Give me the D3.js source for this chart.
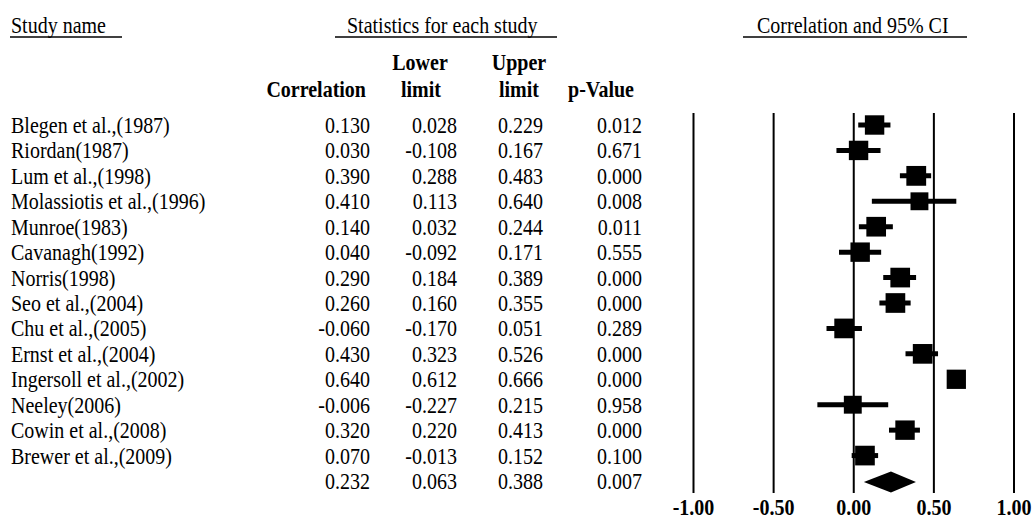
<!DOCTYPE html>
<html>
<head>
<meta charset="utf-8">
<script src="https://cdn.jsdelivr.net/npm/d3@7"></script>
<style>
  body { margin: 0; background: #fff; }
  text { font-family: "Liberation Serif", "Times New Roman", serif; fill: #000; }
</style>
</head>
<body>
<svg id="chart" width="1034" height="519"></svg>
<script>
// study rows
const studies = [
  'Blegen et al.,(1987)', 'Riordan(1987)', 'Lum et al.,(1998)', 'Molassiotis et al.,(1996)',
  'Munroe(1983)', 'Cavanagh(1992)', 'Norris(1998)', 'Seo et al.,(2004)', 'Chu et al.,(2005)',
  'Ernst et al.,(2004)', 'Ingersoll et al.,(2002)', 'Neeley(2006)', 'Cowin et al.,(2008)',
  'Brewer et al.,(2009)'
];
const correlation = [0.130, 0.030, 0.390, 0.410, 0.140, 0.040, 0.290, 0.260, -0.060, 0.430, 0.640, -0.006, 0.320, 0.070];
const lowerLimit  = [0.028, -0.108, 0.288, 0.113, 0.032, -0.092, 0.184, 0.160, -0.170, 0.323, 0.612, -0.227, 0.220, -0.013];
const upperLimit  = [0.229, 0.167, 0.483, 0.640, 0.244, 0.171, 0.389, 0.355, 0.051, 0.526, 0.666, 0.215, 0.413, 0.152];
const pValue      = [0.012, 0.671, 0.000, 0.008, 0.011, 0.555, 0.000, 0.000, 0.289, 0.000, 0.000, 0.958, 0.000, 0.100];
// relative weights (estimated from square sizes)
const weight      = [7.3, 7.3, 7.6, 6.2, 7.5, 7.3, 7.5, 7.5, 7.5, 7.5, 7.2, 6.2, 7.3, 7.5];
// pooled estimate
const summary = { r: 0.232, lo: 0.063, hi: 0.388, p: 0.007 };
const xTicks = [-1, -0.5, 0, 0.5, 1];

const svg = d3.select('#chart');
const SY = 1.14; // text in the source is stretched vertically

const x = d3.scaleLinear().domain([-1, 1]).range([693.5, 1014]);
const y = d3.scalePoint()
  .domain(d3.range(studies.length + 1))
  .range([125, 481]);
const side = d3.scaleSqrt().domain([0, 7.6]).range([0, 19.8]);
// plain hyphen for negatives, like the source
const locale = d3.formatLocale({ decimal: '.', thousands: ',', grouping: [3], currency: ['', ''], minus: '-' });
const fmt = locale.format('.3f');
const fmtTick = locale.format('.2f');

function label(g, tx, ty, str, anchor, bold) {
  g.append('text')
    .attr('transform', `translate(${tx},${ty}) scale(1,${SY})`)
    .attr('text-anchor', anchor || 'start')
    .style('font-size', '20px')
    .style('font-weight', bold ? 'bold' : 'normal')
    .text(str);
}

// header
const head = svg.append('g');
label(head, 11, 33, 'Study name');
label(head, 347, 33, 'Statistics for each study');
label(head, 757, 33, 'Correlation and 95% CI');
[[10, 122], [335, 557], [743, 967]].forEach(([a, b]) => {
  head.append('line')
    .attr('x1', a).attr('x2', b).attr('y1', 37).attr('y2', 37)
    .style('stroke', '#000').style('stroke-width', 1.4);
});
label(head, 366, 97, 'Correlation', 'end', true);
label(head, 420, 70, 'Lower', 'middle', true);
label(head, 421, 97, 'limit', 'middle', true);
label(head, 519, 70, 'Upper', 'middle', true);
label(head, 519, 97, 'limit', 'middle', true);
label(head, 601, 97, 'p-Value', 'middle', true);

// table
const cols = [
  { x: 370, vals: correlation.concat(summary.r) },
  { x: 457, vals: lowerLimit.concat(summary.lo) },
  { x: 543, vals: upperLimit.concat(summary.hi) },
  { x: 642, vals: pValue.concat(summary.p) }
];
const table = svg.append('g');
studies.forEach((s, i) => label(table, 11, y(i) + 8, s));
cols.forEach(c => c.vals.forEach((v, i) => label(table, c.x, y(i) + 8, fmt(v), 'end')));

// plot: vertical reference lines
const plot = svg.append('g');
plot.selectAll('line.grid')
  .data(xTicks)
  .join('line')
  .attr('class', 'grid')
  .attr('x1', d => x(d)).attr('x2', d => x(d))
  .attr('y1', 113).attr('y2', 493)
  .style('stroke', '#000').style('stroke-width', 2);

// confidence intervals
plot.selectAll('line.ci')
  .data(studies.map((s, i) => i))
  .join('line')
  .attr('class', 'ci')
  .attr('x1', i => x(lowerLimit[i])).attr('x2', i => x(upperLimit[i]))
  .attr('y1', i => y(i)).attr('y2', i => y(i))
  .style('stroke', '#000').style('stroke-width', 5);

// squares
plot.selectAll('rect.pt')
  .data(studies.map((s, i) => i))
  .join('rect')
  .attr('class', 'pt')
  .attr('x', i => x(correlation[i]) - side(weight[i]) / 2)
  .attr('y', i => y(i) - side(weight[i]) / 2)
  .attr('width', i => side(weight[i]))
  .attr('height', i => side(weight[i]))
  .style('fill', '#000');

// pooled diamond
const yS = y(studies.length) + 1;
plot.append('path')
  .attr('d', `M${x(summary.lo)},${yS} L${x(summary.r)},${yS - 10.5} L${x(summary.hi)},${yS} L${x(summary.r)},${yS + 10.5} Z`)
  .style('fill', '#000');

// axis labels
const ax = svg.append('g');
xTicks.forEach(t => label(ax, x(t), 515, fmtTick(t), 'middle', true));
</script>
</body>
</html>
